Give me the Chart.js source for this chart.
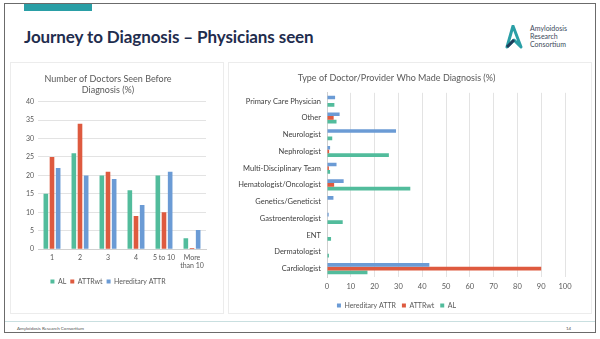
<!DOCTYPE html>
<html>
<head>
<meta charset="utf-8">
<script src="https://cdn.jsdelivr.net/npm/chart.js@4.4.1/dist/chart.umd.min.js"></script>
<style>
  html, body { margin: 0; padding: 0; background: #fff; }
  body { width: 600px; height: 339px; position: relative; overflow: hidden; font-family: Lato, "Open Sans", sans-serif; }
  .frame { position: absolute; left: 4px; top: 3px; width: 590px; height: 328px; border: 1px solid #6b6b6b; }
  .accent { position: absolute; left: 24px; top: 4px; width: 68px; height: 7px; background: #2a9fa6; }
  .title { position: absolute; left: 24px; top: 26px; font-size: 17px; font-weight: bold; color: #1f2d4e; letter-spacing: -0.1px; }
  .logoText { position: absolute; left: 530px; top: 24px; font-size: 7px; line-height: 8px; color: #3d4a5a; }
  .logo { position: absolute; left: 504px; top: 25px; }
  .panel { position: absolute; border: 1px solid #ececec; }
  .footLine { position: absolute; left: 5px; top: 321px; width: 590px; height: 1px; background: #c9dfe0; }
  .footText { position: absolute; left: 17px; top: 326px; font-size: 4.5px; color: #555; }
  .pageNo { position: absolute; left: 566px; top: 326px; font-size: 4.5px; color: #555; }
  .box { position: absolute; }
</style>
</head>
<body>
<div class="frame"></div>
<div class="accent"></div>
<div class="title">Journey to Diagnosis – Physicians seen</div>
<svg class="logo" width="20" height="24" viewBox="0 0 20 24">
  <path d="M9 1 L3 22 L10 15 L17 22 Z" fill="none" stroke="#2a9fa6" stroke-width="3" stroke-linejoin="round"/>
  <path d="M3 22 L10 15" stroke="#1f3d5a" stroke-width="3"/>
</svg>
<div class="logoText">Amyloidosis<br>Research<br>Consortium</div>
<div class="panel" style="left:10px; top:62px; width:212px; height:250px;"></div>
<div class="panel" style="left:228px; top:62px; width:362px; height:250px;"></div>
<div class="box" style="left:10px; top:70px; width:212px; height:225px;"><canvas id="SeenChart"></canvas></div>
<div class="box" style="left:228px; top:69px; width:362px; height:250px;"><canvas id="DxChart"></canvas></div>
<div class="footLine"></div>
<div class="footText">Amyloidosis Research Consortium</div>
<div class="pageNo">14</div>

<script>
const doctorCats = ["1", "2", "3", "4", "5 to 10", ["More", "than 10"]];
const alSeen = [15, 26, 20, 16, 20, 3];
const attrwtSeen = [25, 34, 21, 9, 10, 0.3];
const hattrSeen = [22, 20, 19, 12, 21, 5.2];

const providerCats = ["Primary Care Physician", "Other", "Neurologist", "Nephrologist", "Multi-Disciplinary Team",
	"Hematologist/Oncologist", "Genetics/Geneticist", "Gastroenterologist", "ENT", "Dermatologist", "Cardiologist"];
const hattrDx = [3.4, 5.3, 29, 1.3, 4, 7, 2.7, 0.7, 0, 0, 43];
const attrwtDx = [0, 2.8, 0, 0.9, 0.8, 3, 0, 0, 0, 0, 90];
const alDx = [3.1, 4, 2.2, 26, 1.3, 35, 0, 6.6, 1.7, 0.8, 17];

const GREEN = "#52bc9c";
const RED = "#de5a3f";
const BLUE = "#6b9bd5";
const TXT = "#595959";
const GRID = "#e3e3e3";

Chart.defaults.font.family = "Lato, 'Open Sans', sans-serif";
Chart.defaults.animation = false;

const SEEN = document.getElementById("SeenChart");

let SeenChart = new Chart(SEEN, {
	type: 'bar',
	data: {
		labels: doctorCats,
		datasets: [
			{ label: "AL", data: alSeen, backgroundColor: GREEN },
			{ label: "ATTRwt", data: attrwtSeen, backgroundColor: RED },
			{ label: "Hereditary ATTR", data: hattrSeen, backgroundColor: BLUE }
		]
	},
	options: {
		responsive: true,
		maintainAspectRatio: false,
		layout: { padding: { left: 0, right: 16, top: 2, bottom: 0 } },
		datasets: { bar: { categoryPercentage: 0.66, barPercentage: 0.75 } },
		plugins: {
			title: {
				display: true,
				text: ["Number of Doctors Seen Before", "Diagnosis (%)"],
				color: TXT,
				font: { size: 9, weight: 'normal' },
				padding: { top: 2, bottom: 6 }
			},
			legend: {
				position: 'bottom',
				labels: { color: TXT, font: { size: 7 }, boxWidth: 4, boxHeight: 4, padding: 4 }
			},
			tooltip: { enabled: false }
		},
		scales: {
			x: {
				grid: { display: false, drawTicks: false },
				border: { color: "#d0d0d0" },
				ticks: { color: TXT, font: { size: 7 }, maxRotation: 0, padding: 4 }
			},
			y: {
				min: 0,
				max: 40,
				ticks: { stepSize: 5, color: TXT, font: { size: 7 }, padding: 4 },
				grid: { color: GRID, drawTicks: false },
				border: { display: false },
				afterFit: function (scale) { scale.width = 28; }
			}
		}
	}
});

const DX = document.getElementById("DxChart");

let DxChart = new Chart(DX, {
	type: 'bar',
	data: {
		labels: providerCats,
		datasets: [
			{ label: "Hereditary ATTR", data: hattrDx, backgroundColor: BLUE },
			{ label: "ATTRwt", data: attrwtDx, backgroundColor: RED },
			{ label: "AL", data: alDx, backgroundColor: GREEN }
		]
	},
	options: {
		indexAxis: 'y',
		responsive: true,
		maintainAspectRatio: false,
		layout: { padding: { left: 0, right: 25, top: 0, bottom: 0 } },
		datasets: { bar: { categoryPercentage: 0.66, barPercentage: 1 } },
		plugins: {
			title: {
				display: true,
				text: "Type of Doctor/Provider Who Made Diagnosis (%)",
				color: TXT,
				font: { size: 9, weight: 'normal' },
				padding: { top: 4, bottom: 9 }
			},
			legend: {
				position: 'bottom',
				labels: { color: TXT, font: { size: 7 }, boxWidth: 4, boxHeight: 4, padding: 6 }
			},
			tooltip: { enabled: false }
		},
		scales: {
			x: {
				min: 0,
				max: 100,
				ticks: { stepSize: 10, color: TXT, font: { size: 7.5 }, padding: 5 },
				grid: { color: GRID, drawTicks: false },
				border: { display: false }
			},
			y: {
				grid: { display: false, drawTicks: false },
				border: { color: "#d0d0d0" },
				ticks: { color: "#404040", font: { size: 7.5 }, padding: 6, autoSkip: false },
				afterFit: function (scale) { scale.width = 99; }
			}
		}
	}
});
</script>
</body>
</html>
